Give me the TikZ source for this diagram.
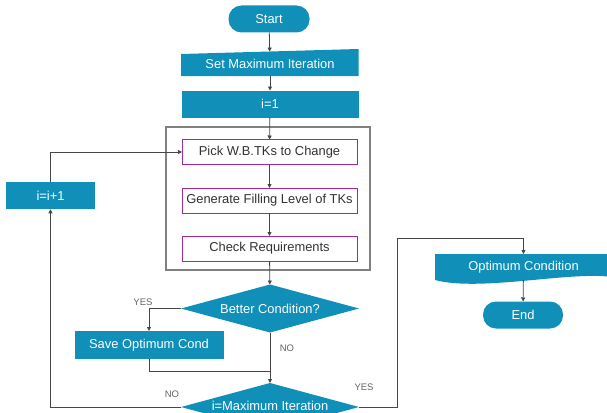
\documentclass[tikz,border=0pt]{standalone}
\usepackage{fontspec}
\setmainfont{Liberation Sans}
\usetikzlibrary{arrows.meta,shapes.geometric}
\definecolor{fcblue}{RGB}{16,143,184}
\definecolor{fcmag}{RGB}{160,40,160}
\definecolor{fcline}{RGB}{70,70,70}
\definecolor{fcgray}{RGB}{128,128,128}
\definecolor{fclabel}{RGB}{100,100,100}
\begin{document}
\begin{tikzpicture}[x=1pt,y=-1pt,
  every node/.style={font=\fontsize{12.9}{14}\selectfont, inner sep=0pt, outer sep=0pt},
  bluebox/.style={rectangle, fill=fcblue, text=white, minimum width=177pt, minimum height=27pt},
  pill/.style={rectangle, rounded corners=13pt, fill=fcblue, text=white, minimum width=81pt, minimum height=27pt},
  magbox/.style={rectangle, draw=fcmag, line width=1pt, fill=white, text=black!80, minimum width=175pt, minimum height=25pt},
  decision/.style={diamond, fill=fcblue, text=white, aspect=3.7, minimum width=178pt, minimum height=48pt},
  conn/.style={draw=fcline, line width=0.8pt, -{Triangle[width=4pt,length=4pt]}},
  plainline/.style={draw=fcline, line width=0.8pt},
  lbl/.style={font=\fontsize{9.5}{10}\selectfont, text=fclabel}]
\useasboundingbox (0,0) rectangle (607,412);
\clip (0,0) rectangle (607,412);

% group box
\node (grp) [rectangle, draw=fcgray, line width=1.5pt, minimum width=204pt, minimum height=143pt] at (268,198.5) {};

% nodes
\node (start) [pill] at (269,19) {Start};
\fill[fcblue] (181,54) -- (358.5,49) -- (358.5,76) -- (181,76) -- cycle;
\node (setmax) [rectangle, text=white, minimum width=177pt, minimum height=24.5pt] at (270,63.8) {Set Maximum Iteration};
\node (i1) [bluebox] at (270,104) {i=1};
\node (pick) [magbox] at (269.5,152) {Pick W.B.TKs to Change};
\node (gen) [magbox] at (269.5,200.5) {Generate Filling Level of TKs};
\node (check) [magbox] at (269.5,248.5) {Check Requirements};
\node (better) [decision] at (270,308.5) {Better Condition?};
\node (save) [bluebox, minimum width=149pt, minimum height=28pt] at (149,345) {Save Optimum Cond};
\node (maxit) [decision] at (270,407) {\raisebox{3pt}{i=Maximum Iteration}};
\node (inc) [bluebox, minimum width=89pt, minimum height=27.5pt] at (50.5,195.5) {i=i+1};
\fill[fcblue] (435,254) -- (612,254) -- (612,277) .. controls (570,271) and (480,292) .. (435,280) -- cycle;
\node (optc) [rectangle, text=white, minimum width=177pt, minimum height=26pt] at (523.5,267) {Optimum Condition};
\node (endn) [pill, minimum width=80pt, minimum height=27pt] at (523,315) {End};

\coordinate (join) at (270,371);
\coordinate (turn) at (397,238);

% connectors
\draw[conn] (start) -- (setmax);
\draw[conn] (setmax) -- (i1);
\draw[conn] (i1) -- (pick);
\draw[conn] (pick) -- (gen);
\draw[conn] (gen) -- (check);
\draw[conn] (check) -- (better);
\draw[conn] (better.west) -| (save.north);
\draw[plainline] (save.south) |- (join);
\draw[conn] (better.south) -- (maxit.north);
\draw[conn] (maxit.west) -| (inc.south);
\draw[conn] (inc.north) |- (pick.west);
\draw[plainline] (maxit.east) -| (turn);
\draw[conn] (turn) -| (optc.north);
\draw[conn] (optc) -- (endn);

% labels
\node (lyes1) [lbl] at (143,302) {YES};
\node (lno1) [lbl] at (287,348) {NO};
\node (lno2) [lbl] at (172,394) {NO};
\node (lyes2) [lbl] at (364,387) {YES};
\end{tikzpicture}
\end{document}
